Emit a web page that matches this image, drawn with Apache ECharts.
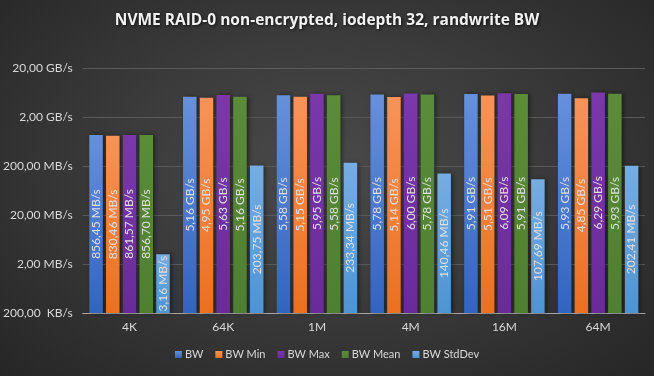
<!DOCTYPE html>
<html>
<head>
<meta charset="utf-8">
<script src="https://cdn.jsdelivr.net/npm/echarts@6/dist/echarts.min.js"></script>
<style>
  html, body { margin: 0; padding: 0; }
  body {
    width: 654px; height: 376px; overflow: hidden;
    background: radial-gradient(ellipse at 50% 45%, #4a4a4a 0%, #3b3b3b 45%, #262626 100%);
  }
  #chart { width: 654px; height: 376px; }
</style>
</head>
<body>
<div id="chart"></div>
<script>
// block sizes on the x axis
const categories = ['4K', '64K', '1M', '4M', '16M', '64M'];

// bandwidth values in MB/s
const bwAvg    = [856.45, 5160, 5580, 5780, 5910, 5930];
const bwMin    = [830.46, 4950, 5150, 5140, 5510, 4850];
const bwMax    = [861.57, 5630, 5950, 6000, 6090, 6290];
const bwMean   = [856.70, 5160, 5580, 5780, 5910, 5930];
const bwStdDev = [3.16, 203.75, 233.34, 140.46, 107.69, 202.41];

// y axis ticks (MB/s) and their labels
const tickValues = [0.2, 2, 20, 200, 2000, 20000];
const tickLabels = ['200,00  KB/s', '2,00 MB/s', '20,00 MB/s', '200,00 MB/s', '2,00 GB/s', '20,00 GB/s'];

const seriesNames = ['BW', 'BW Min', 'BW Max', 'BW Mean', 'BW StdDev'];
const seriesData = [bwAvg, bwMin, bwMax, bwMean, bwStdDev];
const colors = [
    ['#6790dc', '#3264c0'],
    ['#f79358', '#eb7020'],
    ['#7a38aa', '#6a2b9a'],
    ['#5a8c3a', '#4f7f30'],
    ['#76ade2', '#4f93d2']
];

function fmtBW(v) {
    if (v >= 1000) return (v / 1000).toFixed(2).replace('.', ',') + ' GB/s';
    return v.toFixed(2).replace('.', ',') + ' MB/s';
}

const chart = echarts.init(document.getElementById('chart'));

const option = {
    backgroundColor: 'transparent',
    animation: false,
    title: {
        text: 'NVME RAID-0 non-encrypted, iodepth 32, randwrite BW',
        left: 'center',
        top: 8,
        textStyle: {
            color: '#f2f2f2',
            fontFamily: 'Open Sans',
            fontWeight: 'bold',
            fontSize: 15.5,
            textShadowColor: 'rgba(0,0,0,0.7)',
            textShadowBlur: 3,
            textShadowOffsetX: 1,
            textShadowOffsetY: 1
        }
    },
    legend: {
        data: seriesNames,
        bottom: 11,
        left: 'center',
        icon: 'rect',
        itemWidth: 7,
        itemHeight: 7,
        itemGap: 12,
        textStyle: { color: '#d9d9d9', fontSize: 11, fontFamily: 'Lato', padding: [0, 0, 0, -2] }
    },
    grid: { left: 79, right: 9, top: 68, bottom: 63 },
    xAxis: {
        type: 'category',
        data: categories,
        axisLine: { lineStyle: { color: '#a6a6a6', width: 1 } },
        axisTick: { show: false },
        axisLabel: { color: '#d9d9d9', fontSize: 12, fontFamily: 'Lato', margin: 8 }
    },
    yAxis: {
        type: 'log',
        logBase: 10,
        min: 0.2,
        max: 20000,
        startValue: 0.2,
        axisLine: { show: false },
        axisTick: { show: false, customValues: tickValues },
        splitLine: { lineStyle: { color: '#5a5a5a', width: 1 } },
        axisLabel: {
            customValues: tickValues,
            color: '#d9d9d9',
            fontSize: 12,
            fontFamily: 'Lato',
            margin: 10,
            formatter: function (v) {
                const i = tickValues.findIndex(t => Math.abs(t - v) / t < 1e-6);
                return i >= 0 ? tickLabels[i] : '';
            }
        }
    },
    series: seriesNames.map((name, i) => ({
        name: name,
        type: 'bar',
        data: seriesData[i],
        barWidth: 13.5,
        barGap: '24%',
        itemStyle: {
            color: new echarts.graphic.LinearGradient(0, 0, 0, 1, [
                { offset: 0, color: colors[i][0] },
                { offset: 1, color: colors[i][1] }
            ]),
            shadowColor: 'rgba(0,0,0,0.45)',
            shadowBlur: 4,
            shadowOffsetX: 2
        },
        label: {
            show: true,
            position: 'inside',
            rotate: 90,
            color: '#e0e0e0',
            fontSize: 12,
            fontFamily: 'Lato',
            formatter: p => fmtBW(p.value)
        }
    }))
};

// legend swatches use solid colours
option.color = colors.map(c => c[1]);

chart.setOption(option);
</script>
</body>
</html>
